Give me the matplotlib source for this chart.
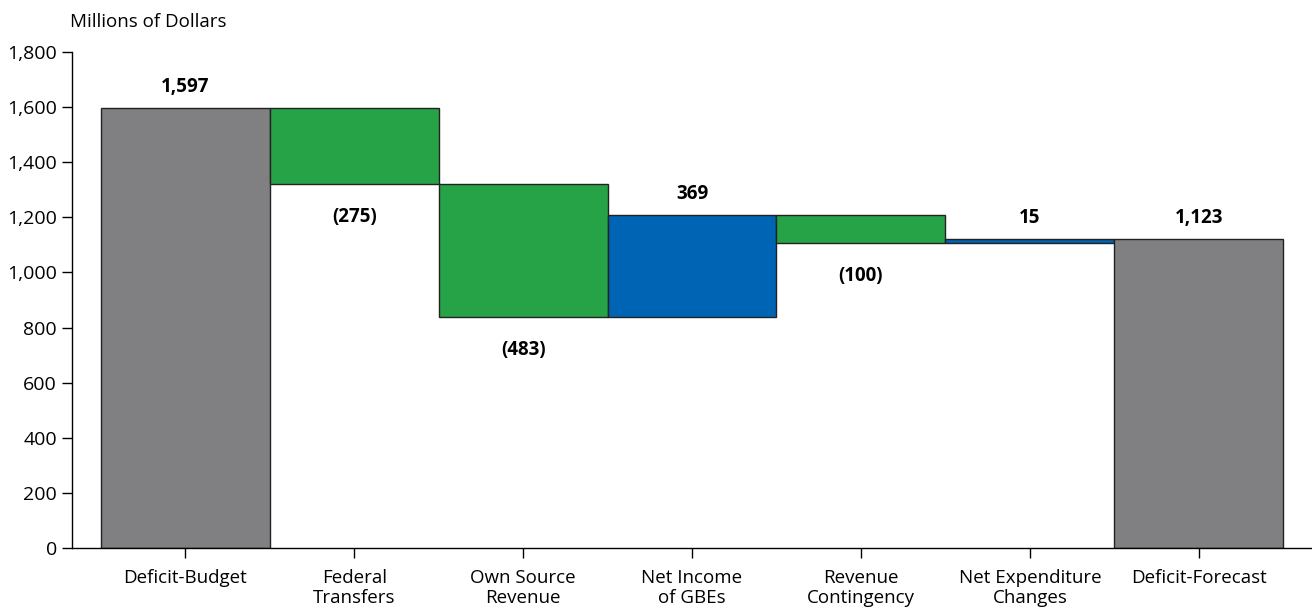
import numpy as np
import matplotlib
matplotlib.use("Agg")
import matplotlib.pyplot as plt
from matplotlib.ticker import FuncFormatter

# --- data ---
categories = ["Deficit-Budget", "Federal\nTransfers", "Own Source\nRevenue",
              "Net Income\nof GBEs", "Revenue\nContingency",
              "Net Expenditure\nChanges", "Deficit-Forecast"]
changes = [1597, -275, -483, 369, -100, 15, 1123]
kinds = ["total", "delta", "delta", "delta", "delta", "delta", "total"]
labels = ["1,597", "(275)", "(483)", "369", "(100)", "15", "1,123"]

GRAY = "#808083"
GREEN = "#27a347"
BLUE = "#0064b4"

plt.rcParams["font.family"] = ["Open Sans", "DejaVu Sans"]

fig = plt.figure(figsize=(13.12, 6.10), dpi=100)
ax = fig.add_axes([0.0549, 0.1016, 0.9451, 0.8132])

x = np.arange(len(categories))
running = 0
for i, (v, k) in enumerate(zip(changes, kinds)):
    if k == "total":
        bottom, height, color = 0, v, GRAY
        running = v
        top, low = v, 0
    else:
        start = running
        running = running + v
        bottom = min(start, running)
        height = abs(v)
        color = GREEN if v < 0 else BLUE
        top, low = max(start, running), bottom
    ax.bar(x[i], height, bottom=bottom, width=1.0, color=color,
           edgecolor="#222222", linewidth=1.0, zorder=2)
    if v < 0:
        ax.annotate(labels[i], (x[i], low), xytext=(0, -24), textcoords="offset points",
                    ha="center", va="center", fontsize=13.5, fontweight="bold")
    else:
        ax.annotate(labels[i], (x[i], top), xytext=(0, 15), textcoords="offset points",
                    ha="center", va="center", fontsize=13.5, fontweight="bold")

ax.set_xlim(-0.67, 6.67)
ax.set_ylim(0, 1800)
ax.set_yticks(np.arange(0, 1801, 200))
ax.yaxis.set_major_formatter(FuncFormatter(lambda v, p: f"{int(v):,}"))
ax.set_xticks(x)
ax.set_xticklabels(categories, fontsize=13.5, linespacing=1.15)
ax.tick_params(axis="y", labelsize=14, length=7, width=1, direction="out", pad=4)
ax.tick_params(axis="x", length=7, width=1, direction="out", pad=8)
for s in ["top", "right"]:
    ax.spines[s].set_visible(False)
for s in ["left", "bottom"]:
    ax.spines[s].set_linewidth(1.0)

fig.text(70 / 1312, 1 - 22 / 610, "Millions of Dollars", fontsize=13.5,
         ha="left", va="center")

fig.savefig("out.png", dpi=100)
